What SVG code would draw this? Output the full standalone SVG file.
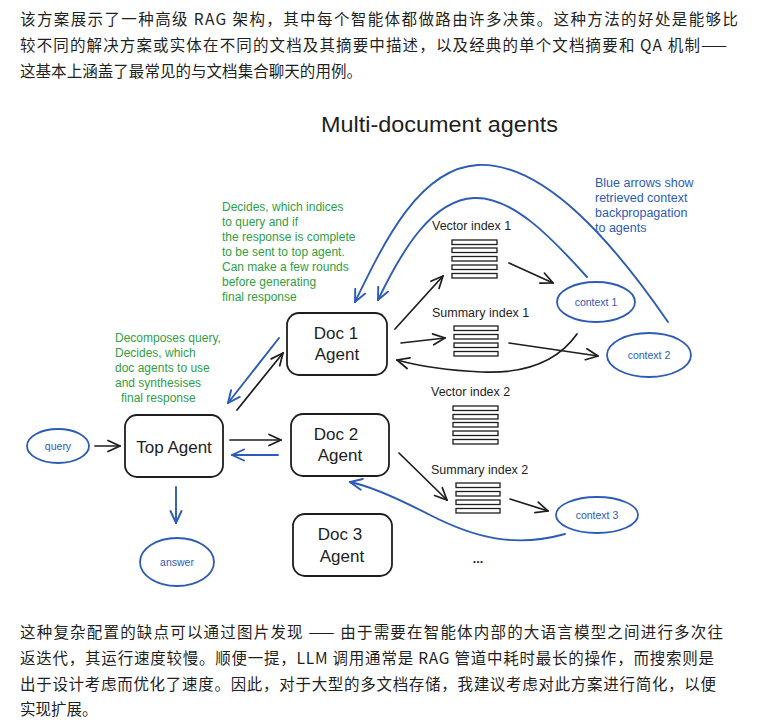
<svg xmlns="http://www.w3.org/2000/svg" width="757" height="725" viewBox="0 0 757 725">
<style>
.cn{font-family:"Noto Sans CJK SC","Noto Sans",sans-serif;font-size:15.5px;fill:#1f1f1f}
.hw{font-family:"Liberation Sans","DejaVu Sans",sans-serif}
.box{fill:#fff;stroke:#1e1e1e;stroke-width:1.8}
.ell{fill:#fff;stroke:#2c5bb8;stroke-width:1.8}
.bar{fill:#fff;stroke:#1e1e1e;stroke-width:1.3}
.nt{font-family:"Liberation Sans","DejaVu Sans",sans-serif;font-size:17px;fill:#1e1e1e;text-anchor:middle}
.ct{font-family:"Liberation Sans","DejaVu Sans",sans-serif;font-size:10.5px;fill:#2c5bb8;text-anchor:middle}
.lbl{font-family:"Liberation Sans","DejaVu Sans",sans-serif;font-size:12.5px;fill:#1e1e1e}
.gr{font-family:"Liberation Sans","DejaVu Sans",sans-serif;font-size:12px;fill:#2f9e44}
.bl{font-family:"Liberation Sans","DejaVu Sans",sans-serif;font-size:12.5px;fill:#2c5bb8}
.k{fill:none;stroke:#1e1e1e;stroke-width:1.7;stroke-linecap:round}
.b{fill:none;stroke:#2c5bb8;stroke-width:1.9;stroke-linecap:round}
</style>
<defs>
<marker id="ak" viewBox="0 0 14 14" refX="13" refY="7" markerWidth="14" markerHeight="14" markerUnits="userSpaceOnUse" orient="auto">
<path d="M1,1.5 L13,7 L1,12.5" fill="none" stroke="#1e1e1e" stroke-width="1.7" stroke-linecap="round"/>
</marker>
<marker id="ab" viewBox="0 0 14 14" refX="13" refY="7" markerWidth="14" markerHeight="14" markerUnits="userSpaceOnUse" orient="auto">
<path d="M1,1.5 L13,7 L1,12.5" fill="none" stroke="#2c5bb8" stroke-width="1.9" stroke-linecap="round"/>
</marker>
</defs>
<rect width="757" height="725" fill="#fff"/>

<g id="intro">
<text class="cn" x="20" y="25" textLength="718" lengthAdjust="spacing">该方案展示了一种高级 RAG 架构，其中每个智能体都做路由许多决策。这种方法的好处是能够比</text>
<text class="cn" x="20" y="51" textLength="707" lengthAdjust="spacing">较不同的解决方案或实体在不同的文档及其摘要中描述，以及经典的单个文档摘要和 QA 机制——</text>
<text class="cn" x="20" y="77" textLength="342" lengthAdjust="spacing">这基本上涵盖了最常见的与文档集合聊天的用例。</text>
</g>

<text class="hw" x="321" y="132" font-size="22" fill="#1e1e1e" textLength="237" lengthAdjust="spacingAndGlyphs">Multi-document agents</text>

<g id="note-doc-agent">
<text class="gr" x="222" y="211">Decides, which indices</text>
<text class="gr" x="222" y="226">to query and if</text>
<text class="gr" x="222" y="241">the response is complete</text>
<text class="gr" x="222" y="256">to be sent to top agent.</text>
<text class="gr" x="222" y="271">Can make a few rounds</text>
<text class="gr" x="222" y="286">before generating</text>
<text class="gr" x="222" y="301">final response</text>
</g>
<g id="note-top-agent">
<text class="gr" x="115" y="342">Decomposes query,</text>
<text class="gr" x="115" y="357">Decides, which</text>
<text class="gr" x="115" y="372">doc agents to use</text>
<text class="gr" x="115" y="387">and synthesises</text>
<text class="gr" x="121" y="402">final response</text>
</g>
<g id="note-blue">
<text class="bl" x="595" y="187">Blue arrows show</text>
<text class="bl" x="595" y="202">retrieved context</text>
<text class="bl" x="595" y="217">backpropagation</text>
<text class="bl" x="595" y="232">to agents</text>
</g>

<g id="connectors">
<path class="k" d="M95,446 L120,446" marker-end="url(#ak)"/>
<path class="k" d="M237,410 L283,353" marker-end="url(#ak)"/>
<path class="b" d="M279,338 L228,403" marker-end="url(#ab)"/>
<path class="k" d="M230,440 L281,440" marker-end="url(#ak)"/>
<path class="b" d="M278,455 L232,455" marker-end="url(#ab)"/>
<path class="b" d="M176,487 L176,523" marker-end="url(#ab)"/>
<path class="k" d="M395,329 L443,276" marker-end="url(#ak)"/>
<path class="k" d="M401,343 L445,338" marker-end="url(#ak)"/>
<path class="k" d="M509,263 L553,283" marker-end="url(#ak)"/>
<path class="k" d="M509,343 L598,356" marker-end="url(#ak)"/>
<path class="k" d="M577,334 C560,358 530,374 482,372 C440,370 415,365 397,360" marker-end="url(#ak)"/>
<path class="k" d="M399,453 L447,500" marker-end="url(#ak)"/>
<path class="k" d="M510,499 L548,511" marker-end="url(#ak)"/>
<path class="b" d="M565,534 C515,548 475,538 430,515 C395,497 370,486 350,482" marker-end="url(#ab)"/>
<path class="b" d="M668,322 C615,245 545,162 478,165 C420,168 385,240 355,302" marker-end="url(#ab)"/>
<path class="b" d="M587,277 C552,238 512,196 474,198 C432,200 402,250 378,300" marker-end="url(#ab)"/>
</g>

<g id="query">
<ellipse class="ell" cx="58" cy="446" rx="31" ry="17"/>
<text class="ct" x="58" y="450">query</text>
</g>
<g id="top-agent">
<rect class="box" x="125" y="415" width="98" height="62" rx="12"/>
<text class="nt" x="174" y="453">Top Agent</text>
</g>
<g id="answer">
<ellipse class="ell" cx="177" cy="562" rx="37" ry="24"/>
<text class="ct" x="177" y="566">answer</text>
</g>
<g id="doc1-agent">
<rect class="box" x="287" y="313" width="100" height="62" rx="12"/>
<text class="nt" x="336" y="339">Doc 1</text>
<text class="nt" x="337" y="360">Agent</text>
</g>
<g id="doc2-agent">
<rect class="box" x="291" y="414" width="98" height="62" rx="12"/>
<text class="nt" x="336" y="440">Doc 2</text>
<text class="nt" x="340" y="461">Agent</text>
</g>
<g id="doc3-agent">
<rect class="box" x="293" y="514" width="99" height="62" rx="12"/>
<text class="nt" x="340" y="540">Doc 3</text>
<text class="nt" x="342" y="562">Agent</text>
</g>

<g id="vector-index-1">
<text class="lbl" x="432" y="230">Vector index 1</text>
<rect class="bar" x="452" y="240" width="45" height="4.5"/>
<rect class="bar" x="452" y="248" width="45" height="4.5"/>
<rect class="bar" x="452" y="256.5" width="45" height="4.5"/>
<rect class="bar" x="452" y="265" width="45" height="4.5"/>
<rect class="bar" x="452" y="273.5" width="45" height="4.5"/>
</g>
<g id="summary-index-1">
<text class="lbl" x="432" y="317">Summary index 1</text>
<rect class="bar" x="454" y="326" width="44" height="4.5"/>
<rect class="bar" x="454" y="334.5" width="44" height="4.5"/>
<rect class="bar" x="454" y="343" width="44" height="4.5"/>
<rect class="bar" x="454" y="351.5" width="44" height="4.5"/>
</g>
<g id="vector-index-2">
<text class="lbl" x="431" y="396">Vector index 2</text>
<rect class="bar" x="453" y="406" width="45" height="4.5"/>
<rect class="bar" x="453" y="414.5" width="45" height="4.5"/>
<rect class="bar" x="453" y="422.5" width="45" height="4.5"/>
<rect class="bar" x="453" y="431" width="45" height="4.5"/>
<rect class="bar" x="453" y="439.5" width="45" height="4.5"/>
</g>
<g id="summary-index-2">
<text class="lbl" x="431" y="474">Summary index 2</text>
<rect class="bar" x="456" y="483" width="44" height="4.5"/>
<rect class="bar" x="456" y="491.5" width="44" height="4.5"/>
<rect class="bar" x="456" y="500" width="44" height="4.5"/>
<rect class="bar" x="456" y="508.5" width="44" height="4.5"/>
</g>
<g id="more">
<text class="lbl" x="478" y="563" text-anchor="middle" font-size="15" font-weight="bold">...</text>
</g>

<g id="context-1">
<ellipse class="ell" cx="596" cy="302" rx="39" ry="20"/>
<text class="ct" x="596" y="306">context 1</text>
</g>
<g id="context-2">
<ellipse class="ell" cx="649" cy="355" rx="42" ry="22"/>
<text class="ct" x="649" y="359">context 2</text>
</g>
<g id="context-3">
<ellipse class="ell" cx="597" cy="515" rx="41" ry="18"/>
<text class="ct" x="597" y="519">context 3</text>
</g>

<g id="outro">
<text class="cn" x="20" y="638" textLength="703" lengthAdjust="spacing">这种复杂配置的缺点可以通过图片发现 —— 由于需要在智能体内部的大语言模型之间进行多次往</text>
<text class="cn" x="20" y="664" textLength="694" lengthAdjust="spacing">返迭代，其运行速度较慢。顺便一提，LLM 调用通常是 RAG 管道中耗时最长的操作，而搜索则是</text>
<text class="cn" x="20" y="690" textLength="696" lengthAdjust="spacing">出于设计考虑而优化了速度。因此，对于大型的多文档存储，我建议考虑对此方案进行简化，以便</text>
<text class="cn" x="20" y="715">实现扩展。</text>
</g>
</svg>
